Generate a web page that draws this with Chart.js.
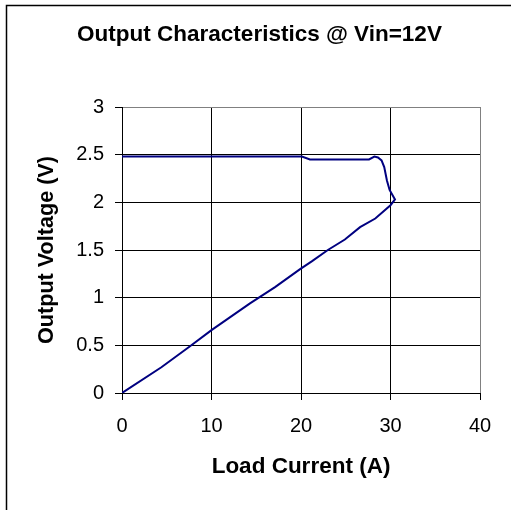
<!DOCTYPE html>
<html>
<head>
<meta charset="utf-8">
<script src="https://cdn.jsdelivr.net/npm/chart.js@4/dist/chart.umd.min.js"></script>
<style>
  html, body { margin: 0; padding: 0; background: #fff; }
  #wrap { width: 511px; height: 510px; position: relative; }
</style>
</head>
<body>
<div id="wrap"><canvas id="c" width="511" height="510"></canvas></div>
<script>
// load current (A) and output voltage (V):
// regulated branch, foldback at ~30 A, then back down to the origin
const currentA = [0, 20.1, 21, 27.6, 28.2, 28.6, 29.0, 29.3, 29.6, 29.9, 30.5,
  30.0, 28.3, 26.6, 24.9, 23.0, 21.2, 19.9, 17.1, 14.3, 10, 7.6, 4.4, 0];
const voltageV = [2.48, 2.48, 2.45, 2.45, 2.48, 2.47, 2.44, 2.37, 2.23, 2.13, 2.03,
  1.97, 1.83, 1.74, 1.61, 1.50, 1.38, 1.30, 1.11, 0.94, 0.66, 0.49, 0.27, 0];

const xTicks = [0, 10, 20, 30, 40];
const yTicks = [0, 0.5, 1, 1.5, 2, 2.5, 3];

const FONT = "'Liberation Sans', Arial, sans-serif";

// outer chart frame (only left and top edges fall inside the picture)
const frame = {
  id: 'frame',
  afterLayout(chart) {
    // title in the original sits a little right of canvas centre
    const t = chart.titleBlock;
    if (t) { t.left += 4; t.right += 4; }
  },
  beforeDraw(chart) {
    const ctx = chart.ctx;
    ctx.save();
    ctx.strokeStyle = '#000';
    ctx.lineWidth = 1.5;
    ctx.strokeRect(6.5, 5.5, 600, 600);
    ctx.restore();
  }
};

new Chart(document.getElementById('c'), {
  type: 'scatter',
  data: {
    datasets: [{
      data: currentA.map((x, i) => ({ x: x, y: voltageV[i] })),
      showLine: true,
      borderColor: '#000080',
      borderWidth: 2,
      pointRadius: 0,
      tension: 0,
      fill: false
    }]
  },
  options: {
    responsive: false,
    animation: false,
    layout: { padding: 0 },
    plugins: {
      legend: { display: false },
      tooltip: { enabled: false },
      title: {
        display: true,
        text: 'Output Characteristics @ Vin=12V',
        color: '#000',
        font: { family: FONT, size: 22.5, weight: 'bold' },
        padding: { top: 21.5, bottom: 58.5 }
      }
    },
    scales: {
      x: {
        type: 'linear',
        min: 0,
        max: 40,
        afterBuildTicks: s => { s.ticks = xTicks.map(v => ({ value: v })); },
        afterFit: s => { s.height = 117; s.paddingRight = 31; },
        ticks: {
          color: '#000', padding: 14, font: { family: FONT, size: 20 },
          callback: v => String(v)
        },
        grid: {
          color: c => (c.tick && c.tick.value === 40 ? '#808080' : '#000'),
          tickColor: '#000',
          tickLength: 7,
          lineWidth: 1
        },
        border: { color: '#000', width: 1 },
        title: {
          display: true,
          text: 'Load Current (A)',
          color: '#000',
          font: { family: FONT, size: 22.5, weight: 'bold' },
          padding: { top: 0, bottom: 29.5 }
        }
      },
      y: {
        type: 'linear',
        min: 0,
        max: 3,
        afterBuildTicks: s => { s.ticks = yTicks.map(v => ({ value: v })); },
        afterFit: s => { s.width = 122; },
        ticks: {
          color: '#000', padding: 11, font: { family: FONT, size: 20 },
          callback: v => String(v)
        },
        grid: {
          color: c => (c.tick && c.tick.value === 3 ? '#808080' : '#000'),
          tickColor: '#000',
          tickLength: 7,
          lineWidth: 1
        },
        border: { color: '#000', width: 1 },
        title: {
          display: true,
          text: 'Output Voltage (V)',
          color: '#000',
          font: { family: FONT, size: 21.6, weight: 'bold' },
          padding: { top: 34, bottom: 0 }
        }
      }
    }
  },
  plugins: [frame]
});
</script>
</body>
</html>
